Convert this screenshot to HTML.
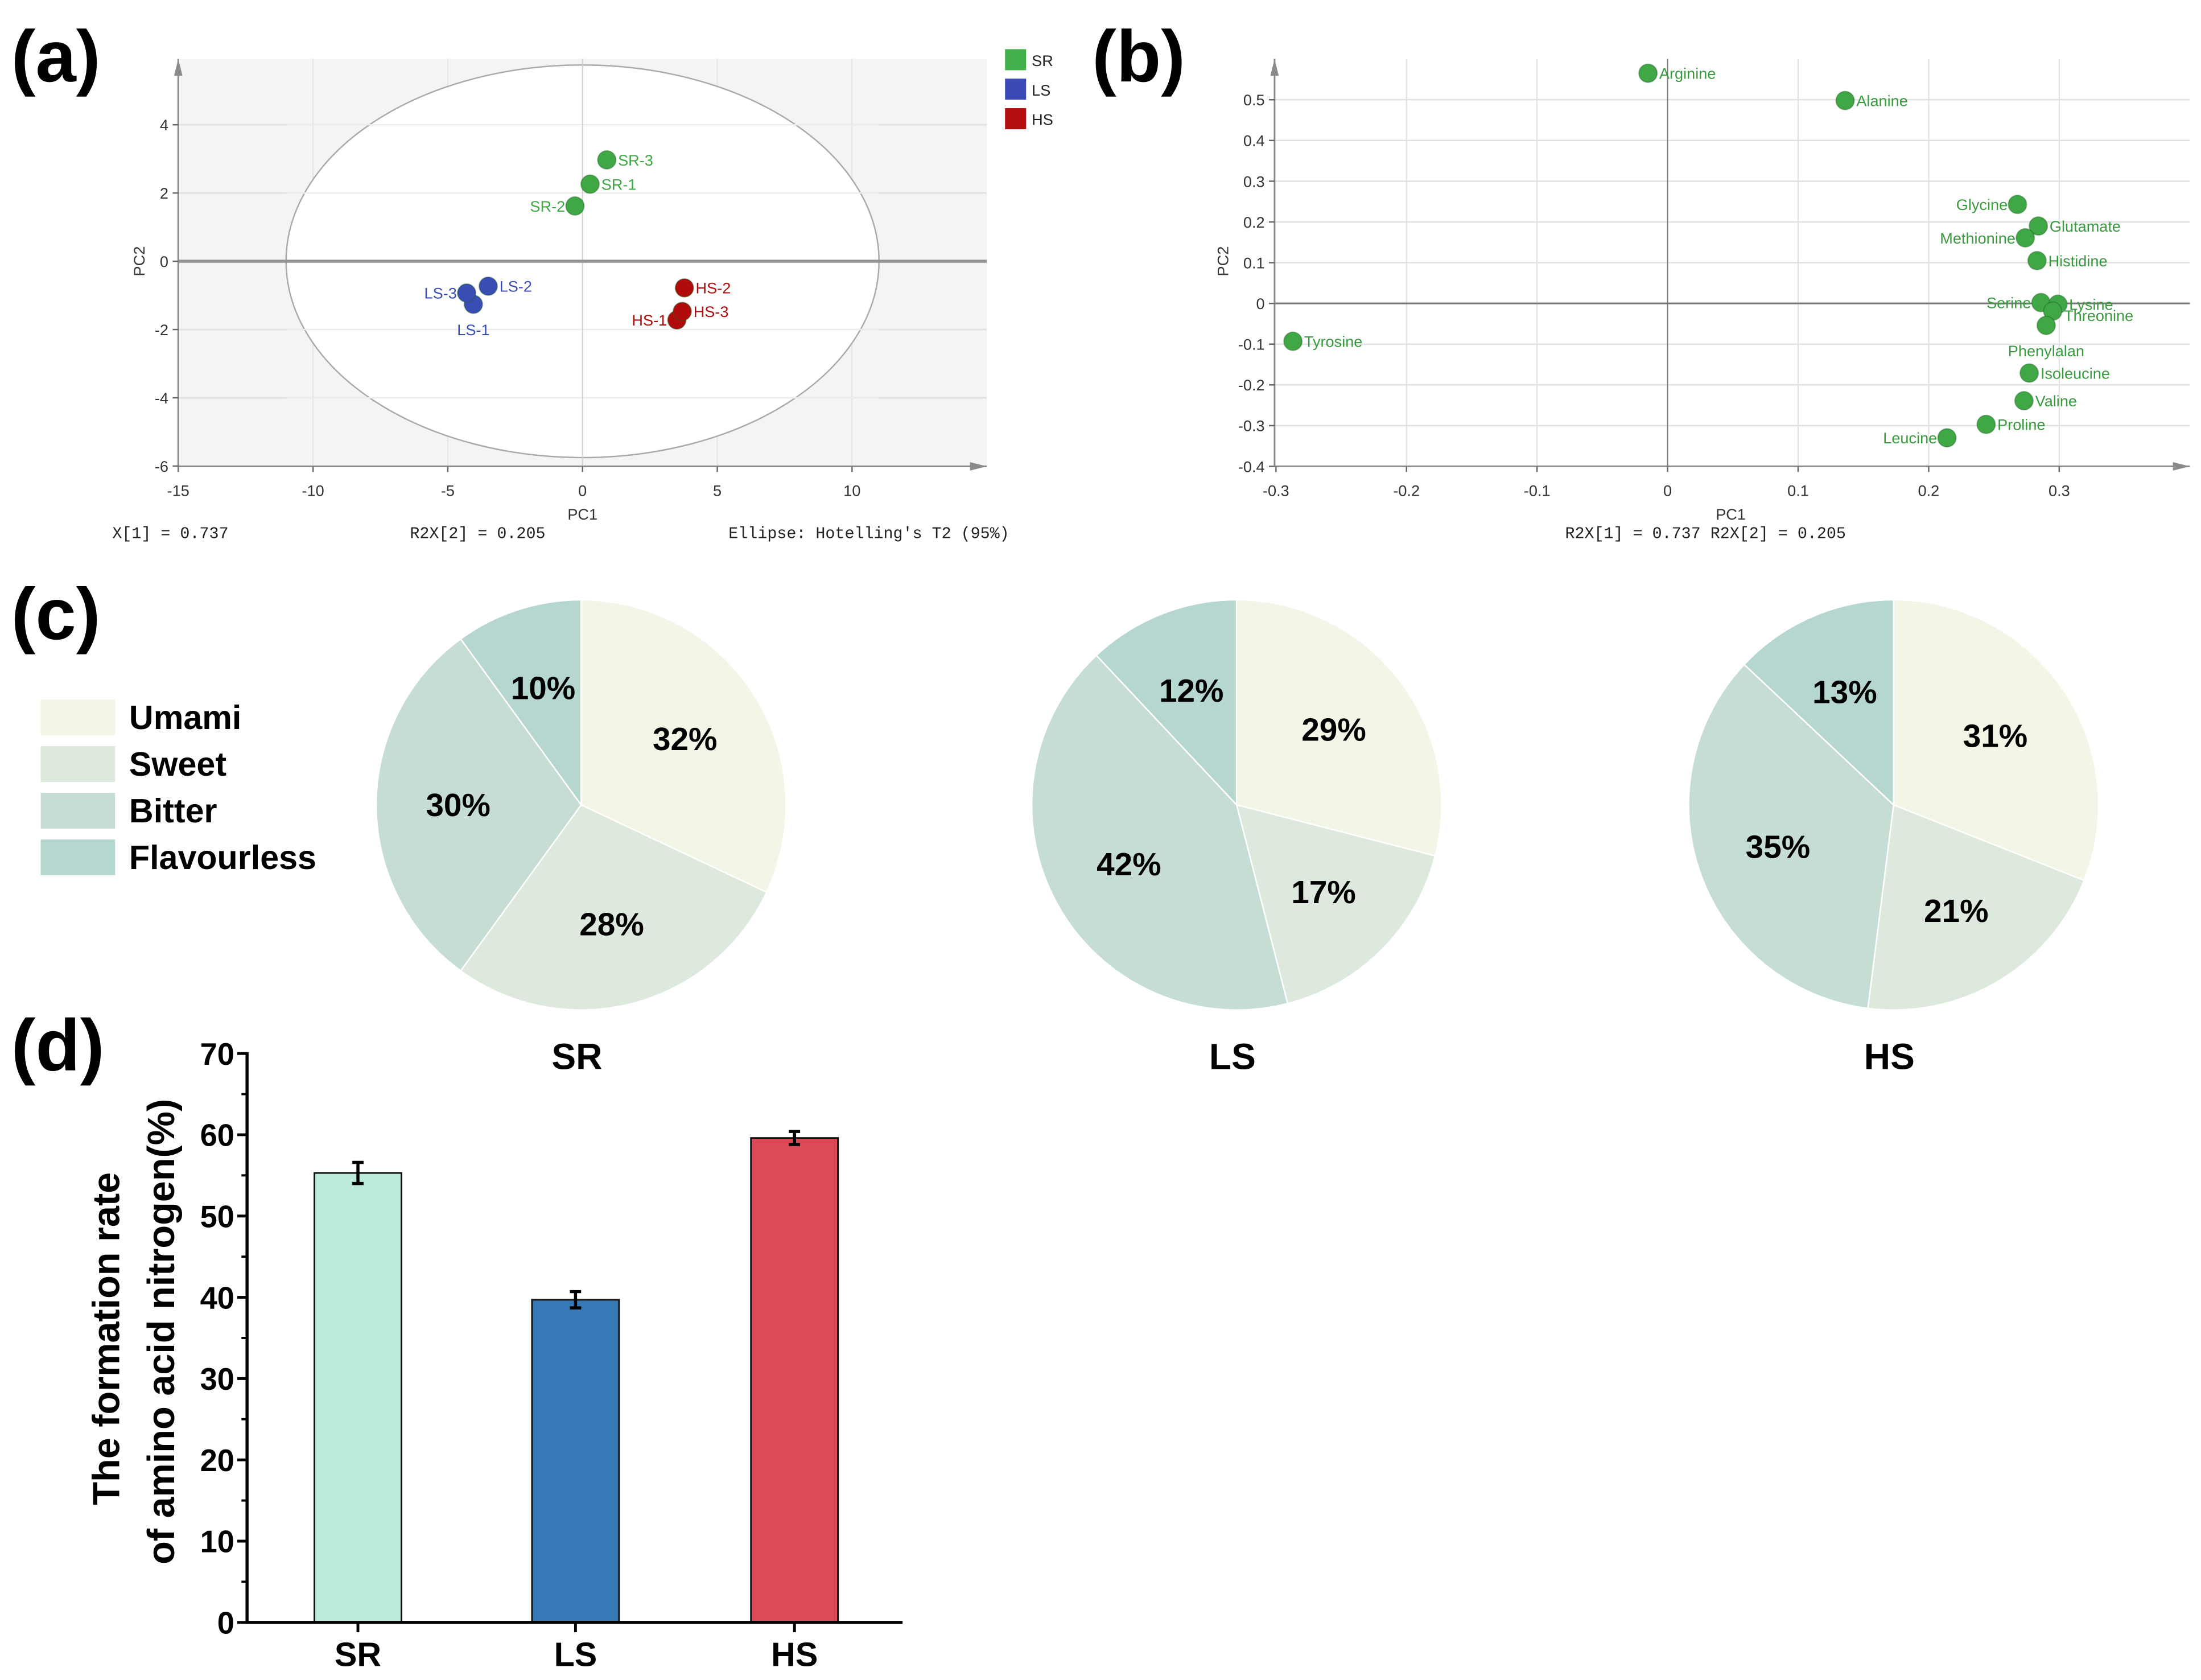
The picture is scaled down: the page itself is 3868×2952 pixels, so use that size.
<!DOCTYPE html>
<html><head><meta charset="utf-8"><style>
html,body{margin:0;padding:0;background:#fff;}
svg{display:block;}
text{font-family:"Liberation Sans",sans-serif;}
.mono{font-family:"Liberation Mono",monospace;}
.b{font-weight:bold;}
</style></head><body>
<svg id="fig" width="3868" height="2952" viewBox="0 0 1568 1196" preserveAspectRatio="none" xmlns="http://www.w3.org/2000/svg">
<g id="pa"></g>
<g id="pb"></g>
<g id="pc"></g>
<g id="pd"></g>
</svg>
<script>
// ---- Panel (a) data ----
const aLabels = ["SR-1","SR-2","SR-3","LS-1","LS-2","LS-3","HS-1","HS-2","HS-3"];
const aPC1 = [0.28,-0.28,0.9,-4.05,-3.5,-4.3,3.5,3.78,3.7];
const aPC2 = [2.26,1.62,2.97,-1.26,-0.73,-0.93,-1.72,-0.78,-1.47];
const aGroups = ["SR","SR","SR","LS","LS","LS","HS","HS","HS"];
const aXTicks = [-15,-10,-5,0,5,10];
const aYTicks = [-6,-4,-2,0,2,4];
const aLegend = ["SR","LS","HS"];
// ---- Panel (b) data ----
const bLabels = ["Arginine","Alanine","Glycine","Glutamate","Methionine","Histidine","Serine","Lysine","Threonine","Phenylalan","Isoleucine","Valine","Proline","Leucine","Tyrosine"];
const bPC1 = [-0.015,0.136,0.268,0.284,0.274,0.283,0.286,0.299,0.295,0.29,0.277,0.273,0.244,0.214,-0.287];
const bPC2 = [0.565,0.498,0.243,0.19,0.161,0.105,0.002,-0.002,-0.019,-0.054,-0.171,-0.239,-0.297,-0.33,-0.093];
const bXTicks = [-0.3,-0.2,-0.1,0,0.1,0.2,0.3];
const bYTicks = [-0.4,-0.3,-0.2,-0.1,0,0.1,0.2,0.3,0.4,0.5];
// ---- Panel (c) data ----
const pieCats = ["Umami","Sweet","Bitter","Flavourless"];
const pieGroups = ["SR","LS","HS"];
const pieSR = [32,28,30,10];
const pieLS = [29,17,42,12];
const pieHS = [31,21,35,13];
// ---- Panel (d) data ----
const barCats = ["SR","LS","HS"];
const barVals = [55.3,39.7,59.6];
const barErr = [1.3,1.0,0.8];
const barYTicks = [0,10,20,30,40,50,60,70];

const NS="http://www.w3.org/2000/svg";
function mk(parent,tag,attrs,txt){const e=document.createElementNS(NS,tag);for(const k in attrs)e.setAttribute(k,attrs[k]);if(txt!==undefined)e.textContent=txt;parent.appendChild(e);return e;}
const gColors={SR:"#3fa845",LS:"#3a4db5",HS:"#b10c0c"};
const sqColors={SR:"#43b14b",LS:"#3c4ab8",HS:"#b50e0e"};
const fig=document.getElementById('fig');

// panel labels
[["(a)",8,58],["(b)",778,58],["(c)",8,455],["(d)",8,762]].forEach(p=>{
  const t=mk(fig,'text',{x:p[1],y:p[2],'font-size':52,'font-weight':'bold',fill:'#000'},p[0]);
  
  
});

// ===== Panel a =====
(function(){
const g=document.getElementById('pa');
const x=v=>415+v*19.2, y=v=>186-v*24.3;
const L=127,R=703,T=42,B=332;
const bg=mk(g,'rect',{x:L,y:T,width:R-L,height:B-T,fill:'#f4f4f4'});


aYTicks.forEach(v=>{if(v!==0&&v!==-6)mk(g,'line',{x1:L,x2:R,y1:y(v),y2:y(v),stroke:'#e2e2e2','stroke-width':1.2});});
aXTicks.forEach(v=>{if(v!==0&&v!==-15)mk(g,'line',{x1:x(v),x2:x(v),y1:T,y2:B,stroke:'#e4e4e4','stroke-width':0.8});});
const el=mk(g,'ellipse',{cx:x(0),cy:y(0),rx:x(11)-x(0),ry:y(0)-y(5.75),fill:'#fff',stroke:'#aaa','stroke-width':1});


aYTicks.forEach(v=>{if(v!==0&&v!==-6)mk(g,'line',{x1:204,x2:626,y1:y(v),y2:y(v),stroke:'#ececec','stroke-width':1});});
mk(g,'line',{x1:x(0),x2:x(0),y1:T,y2:B,stroke:'#d0d0d0','stroke-width':0.8});
mk(g,'line',{x1:L,x2:R,y1:y(0),y2:y(0),stroke:'#909090','stroke-width':2.2});
mk(g,'line',{x1:L,x2:L,y1:B,y2:T,stroke:'#8a8a8a','stroke-width':1.2});
mk(g,'polygon',{points:`${L-3},${T+12} ${L+3},${T+12} ${L},${T}`,fill:'#8a8a8a'});
mk(g,'line',{x1:L,x2:R,y1:B,y2:B,stroke:'#8a8a8a','stroke-width':1.2});
mk(g,'polygon',{points:`${R-12},${B-3} ${R-12},${B+3} ${R},${B}`,fill:'#8a8a8a'});
aXTicks.forEach(v=>{
  mk(g,'line',{x1:x(v),x2:x(v),y1:B,y2:B+4,stroke:'#666'});
  const t=mk(g,'text',{x:x(v),y:B+21,'font-size':11,'text-anchor':'middle',fill:'#333'},String(v).replace('-','-'));
  
  
});
aYTicks.forEach(v=>{
  mk(g,'line',{x1:L-4,x2:L,y1:y(v),y2:y(v),stroke:'#666'});
  const t=mk(g,'text',{x:L-7,y:y(v)+4,'font-size':11,'text-anchor':'end',fill:'#333'},v);
  
  
});
aLabels.forEach((lab,i)=>{
  const c=gColors[aGroups[i]];
  const cx=x(aPC1[i]),cy=y(aPC2[i]);
  const p=mk(g,'circle',{cx:cx,cy:cy,r:6.5,fill:c,stroke:'#1d5a22','stroke-opacity':0.4,'stroke-width':0.8});
  
  
  let tx=cx+8,anchor='start',ty=cy+4;
  if(lab==='SR-2'||lab==='LS-3'||lab==='HS-1'){tx=cx-7;anchor='end';}
  if(lab==='LS-1'){tx=cx;anchor='middle';ty=cy+22;}
  const t=mk(g,'text',{x:tx,y:ty,'font-size':11,'text-anchor':anchor,fill:c},lab);
  
  
});
aLegend.forEach((k,i)=>{
  const r=mk(g,'rect',{x:716,y:35+i*21,width:15,height:15,fill:sqColors[k]});
  
  
  const t=mk(g,'text',{x:735,y:47+i*21,'font-size':11,fill:'#222'},k);
  
  
});
let t=mk(g,'text',{x:415,y:370,'font-size':11,'text-anchor':'middle',fill:'#333'},'PC1');

t=mk(g,'text',{x:103,y:186,'font-size':11,'text-anchor':'middle',fill:'#333',transform:'rotate(-90 103 186)'},'PC2');

[["X[1] = 0.737",80],["R2X[2] = 0.205",292],["Ellipse: Hotelling's T2 (95%)",519]].forEach(s=>{
  const e=mk(g,'text',{x:s[1],y:383,'font-size':11.5,'class':'mono',fill:'#222'},s[0]);
  
  
});
})();

// ===== Panel b =====
(function(){
const g=document.getElementById('pb');
const x=v=>1188+v*930, y=v=>216-v*290;
const L=908,R=1560,T=42,B=332;
bXTicks.forEach(v=>{if(v!==0&&v!==-0.3)mk(g,'line',{x1:x(v),x2:x(v),y1:T,y2:B,stroke:'#e0e0e0','stroke-width':0.8});});
bYTicks.forEach(v=>{if(v!==0&&v!==-0.4)mk(g,'line',{x1:L,x2:R,y1:y(v),y2:y(v),stroke:'#e0e0e0','stroke-width':1});});
mk(g,'line',{x1:x(0),x2:x(0),y1:T,y2:B,stroke:'#777','stroke-width':0.8});
mk(g,'line',{x1:L,x2:R,y1:y(0),y2:y(0),stroke:'#777','stroke-width':1.2});
mk(g,'line',{x1:L,x2:L,y1:B,y2:T,stroke:'#8a8a8a','stroke-width':1.2});
mk(g,'polygon',{points:`${L-3},${T+12} ${L+3},${T+12} ${L},${T}`,fill:'#8a8a8a'});
mk(g,'line',{x1:L,x2:R,y1:B,y2:B,stroke:'#8a8a8a','stroke-width':1.2});
mk(g,'polygon',{points:`${R-12},${B-3} ${R-12},${B+3} ${R},${B}`,fill:'#8a8a8a'});
bXTicks.forEach(v=>{
  mk(g,'line',{x1:x(v),x2:x(v),y1:B,y2:B+4,stroke:'#666'});
  const t=mk(g,'text',{x:x(v),y:B+21,'font-size':11,'text-anchor':'middle',fill:'#333'},v);
  
  
});
bYTicks.forEach(v=>{
  mk(g,'line',{x1:L-4,x2:L,y1:y(v),y2:y(v),stroke:'#666'});
  const t=mk(g,'text',{x:L-7,y:y(v)+4,'font-size':11,'text-anchor':'end',fill:'#333'},v);
  
  
});
const leftLab=["Glycine","Methionine","Serine","Leucine"];
bLabels.forEach((lab,i)=>{
  const cx=x(bPC1[i]),cy=y(bPC2[i]);
  const p=mk(g,'circle',{cx:cx,cy:cy,r:6.5,fill:'#3fa845',stroke:'#1d5a22','stroke-opacity':0.4,'stroke-width':0.8});
  
  
  let tx=cx+8,anchor='start',ty=cy+4;
  if(leftLab.includes(lab)){tx=cx-7;anchor='end';}
  if(lab==='Phenylalan'){tx=cx;anchor='middle';ty=cy+22;}
  if(lab==='Threonine'){ty=cy+7;}
  const t=mk(g,'text',{x:tx,y:ty,'font-size':11,'text-anchor':anchor,fill:'#3a9a40'},lab);
  
  
});
let t=mk(g,'text',{x:1233,y:370,'font-size':11,'text-anchor':'middle',fill:'#333'},'PC1');

t=mk(g,'text',{x:875,y:186,'font-size':11,'text-anchor':'middle',fill:'#333',transform:'rotate(-90 875 186)'},'PC2');

t=mk(g,'text',{x:1215,y:383,'font-size':11.5,'class':'mono','text-anchor':'middle',fill:'#222'},'R2X[1] = 0.737 R2X[2] = 0.205');

})();

// ===== Panel c =====
(function(){
const g=document.getElementById('pc');
const cols=["#f2f6e6","#dde9dc","#c6ddd4","#b6d6d0"];
pieCats.forEach((c,i)=>{
  const r=mk(g,'rect',{x:29,y:498+i*33.2,width:53,height:25.5,fill:cols[i]});
  
  
  const t=mk(g,'text',{x:92,y:519+i*33.2,'font-size':24,'font-weight':'bold',fill:'#000'},c);
  
  
});
const data=[pieSR,pieLS,pieHS];
const centers=[414,881,1349];
data.forEach((vals,k)=>{
  const cx=centers[k],cy=573,r=146;
  const tot=vals.reduce((a,b)=>a+b,0);
  let acc=0;
  vals.forEach((v,i)=>{
    const a0=acc/tot*2*Math.PI; acc+=v; const a1=acc/tot*2*Math.PI;
    const x0=cx+r*Math.sin(a0),y0=cy-r*Math.cos(a0),x1=cx+r*Math.sin(a1),y1=cy-r*Math.cos(a1);
    const large=(a1-a0)>Math.PI?1:0;
    const p=mk(g,'path',{d:`M${cx},${cy} L${x0},${y0} A${r},${r} 0 ${large} 1 ${x1},${y1} Z`,fill:cols[i],stroke:'#fff','stroke-width':1});
    
    
    const am=(a0+a1)/2, rl=r*0.6;
    const t=mk(g,'text',{x:cx+rl*Math.sin(am),y:cy-rl*Math.cos(am)+8,'font-size':23,'font-weight':'bold','text-anchor':'middle',fill:'#000'},v+'%');
    
    
  });
  const t=mk(g,'text',{x:cx-3,y:761,'font-size':26,'font-weight':'bold','text-anchor':'middle',fill:'#000'},pieGroups[k]);
  
  
});
})();

// ===== Panel d =====
(function(){
const g=document.getElementById('pd');
const y=v=>1155-v*5.786;
const X0=176,X1=643;
const xc=[255,410,566];
const cols=["#bdebd9","#367bb8","#dc4959"];
barCats.forEach((c,i)=>{
  const b=mk(g,'rect',{x:xc[i]-31,y:y(barVals[i]),width:62,height:y(0)-y(barVals[i]),fill:cols[i],stroke:'#111','stroke-width':1.2});
  
  
  const yt=y(barVals[i]+barErr[i]),yb=y(barVals[i]-barErr[i]);
  const eb=mk(g,'path',{d:`M${xc[i]},${yt} V${yb} M${xc[i]-4},${yt} H${xc[i]+4} M${xc[i]-4},${yb} H${xc[i]+4}`,stroke:'#000','stroke-width':2.2,fill:'none'});
  
  
  mk(g,'line',{x1:xc[i],x2:xc[i],y1:1155,y2:1162,stroke:'#000','stroke-width':2});
  const t=mk(g,'text',{x:xc[i],y:1186,'font-size':24,'font-weight':'bold','text-anchor':'middle',fill:'#000'},c);
  
  
});
mk(g,'line',{x1:X0,x2:X0,y1:y(70)-1,y2:1156,stroke:'#000','stroke-width':2.2});
mk(g,'line',{x1:X0-1,x2:X1,y1:1155,y2:1155,stroke:'#000','stroke-width':2.2});
barYTicks.forEach(v=>{
  mk(g,'line',{x1:X0-7,x2:X0,y1:y(v),y2:y(v),stroke:'#000','stroke-width':2});
  if(v<70)mk(g,'line',{x1:X0-4,x2:X0,y1:y(v+5),y2:y(v+5),stroke:'#000','stroke-width':1.6});
  const t=mk(g,'text',{x:X0-9,y:y(v)+8,'font-size':22,'font-weight':'bold','text-anchor':'end',fill:'#000'},v);
  
  
});
let t=mk(g,'text',{x:85,y:953,'font-size':27,'font-weight':'bold','text-anchor':'middle',fill:'#000',transform:'rotate(-90 85 953)'},'The formation rate');

t=mk(g,'text',{x:124,y:948,'font-size':27,'font-weight':'bold','text-anchor':'middle',fill:'#000',transform:'rotate(-90 124 948)'},'of amino acid nitrogen(%)');

})();
</script>
</body></html>
